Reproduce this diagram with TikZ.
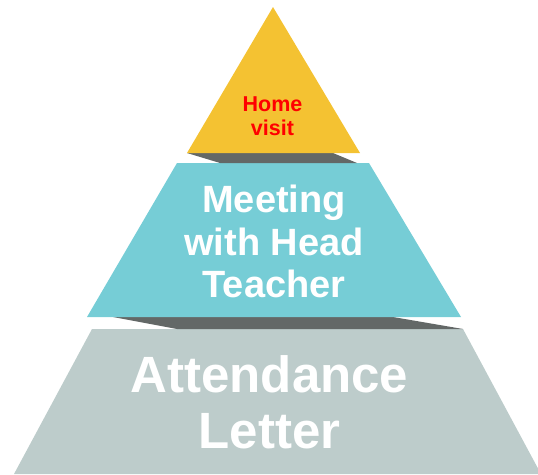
\documentclass[tikz,border=0pt]{standalone}
\usepackage{fontspec}
\setmainfont{Liberation Sans}
\definecolor{tiergold}{HTML}{F4C232}
\definecolor{tierteal}{HTML}{76CDD6}
\definecolor{tiergrey}{HTML}{BDCCCB}
\definecolor{tierdark}{HTML}{636867}
\tikzset{
  tiertext/.style={anchor=north, align=center, inner sep=0pt}
}
\newcommand{\tierquad}[5]{
  \fill [#1] #2 -- #3 -- #4 -- #5 -- cycle;
}

\begin{document}
\begin{tikzpicture}[x=1pt,y=-1pt]
        \clip (0,0) rectangle (538,474);
        \tierquad{tiergrey}{(92,329)}{(463,329)}{(541,474)}{(14,474)}
        \tierquad{tierdark}{(113,317)}{(393,317)}{(463,329)}{(177,329)}
        \tierquad{tierteal}{(177,163)}{(369,163)}{(461,317)}{(87,317)}
        \tierquad{tierdark}{(187,153)}{(333,153)}{(357,163)}{(220,163)}
        \fill [tiergold] (273,7) -- (360,153) -- (187,153) -- cycle;
        \node [tiertext, text=red, font=\bfseries\fontsize{21.5}{24}\selectfont] (home) at (272.5,97) {Home\\visit};
        \node [tiertext, text=white, font=\bfseries\fontsize{38}{42.5}\selectfont] (meeting) at (274,185) {Meeting\\with Head\\Teacher};
        \node [tiertext, text=white, font=\bfseries\fontsize{51}{56}\selectfont] (letter) at (269.5,355) {Attendance\\Letter};
    \end{tikzpicture}
\end{document}
